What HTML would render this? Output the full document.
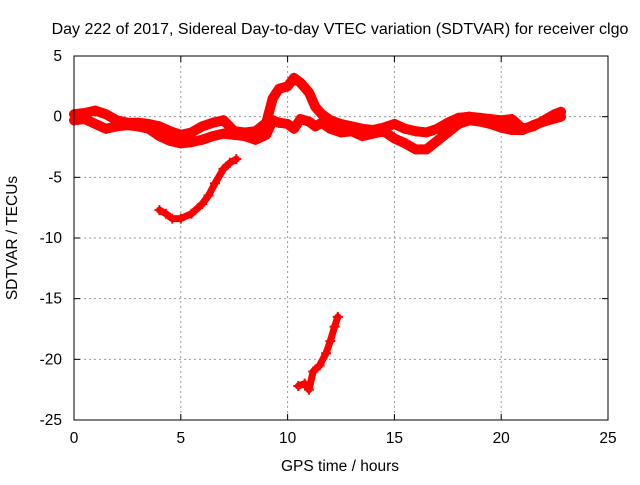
<!DOCTYPE html>
<html><head><meta charset="utf-8"><style>
body{margin:0;background:#fff}
svg{font-family:"Liberation Sans",sans-serif;font-size:15.5px}
</style></head><body>
<svg id="chart" width="640" height="480" viewBox="0 0 640 480" xmlns="http://www.w3.org/2000/svg">
<rect width="640" height="480" fill="#fff"/>
<text x="340" y="34" text-anchor="middle" style="font-size:16px">Day 222 of 2017, Sidereal Day-to-day VTEC variation (SDTVAR) for receiver clgo</text>
<text x="340" y="471" text-anchor="middle">GPS time / hours</text>
<text transform="translate(17,238) rotate(-90)" text-anchor="middle">SDTVAR / TECUs</text>
<g id="grid"></g><g id="ticks"></g><g id="marks"></g>
<rect x="74" y="56" width="534" height="364" fill="none" stroke="#000" stroke-width="1"/>
</svg>
<script>
const xTicks=[0,5,10,15,20,25];
const yTicks=[5,0,-5,-10,-15,-20,-25];
const upperH=[0,0.5,1,1.5,2,2.5,3,3.5,4,4.5,5,5.5,6,6.5,7,7.5,8,8.5,9,9.3,9.6,10,10.3,10.6,11,11.3,11.6,12,12.5,13,13.5,14,14.5,15,15.5,16,16.5,17,17.5,18,18.5,19,19.5,20,20.5,21,21.5,22,22.5,22.8];
const upperV=[0.2,0.3,0.5,0.2,-0.3,-0.5,-0.5,-0.6,-0.8,-1.2,-1.5,-1.3,-0.8,-0.5,-0.3,-1.2,-1.3,-1.2,-0.5,1.5,2.3,2.5,3.2,2.8,2.0,0.8,0.2,-0.3,-0.6,-0.8,-1.0,-1.1,-0.9,-0.6,-1.0,-1.2,-1.3,-1.0,-0.5,-0.1,0,-0.1,-0.2,-0.3,-0.2,-1.0,-0.8,-0.3,0.2,0.4];
const lowerH=[0,0.5,1,1.5,2,2.5,3,3.5,4,4.5,5,5.5,6,6.5,7,7.5,8,8.5,9,9.3,9.6,10,10.3,10.6,11,11.3,11.6,12,12.5,13,13.5,14,14.5,15,15.5,16,16.5,17,17.5,18,18.5,19,19.5,20,20.5,21,21.5,22,22.8];
const lowerV=[-0.3,-0.2,-0.6,-1.0,-0.8,-0.7,-0.8,-1.0,-1.6,-2.0,-2.2,-2.1,-1.9,-1.6,-1.4,-1.5,-1.6,-1.9,-1.5,-0.3,-0.5,-0.6,-1.0,-0.2,-0.4,-0.8,-0.5,-1.0,-1.3,-1.2,-1.6,-1.4,-1.2,-1.8,-2.2,-2.7,-2.7,-2.0,-1.3,-0.6,-0.3,-0.4,-0.6,-0.9,-1.1,-1.1,-0.7,-0.4,0.0];
const arcH=[4,4.3,4.6,5,5.5,6,6.3,6.6,7,7.3,7.6];
const arcV=[-7.7,-8.0,-8.4,-8.4,-8.0,-7.2,-6.5,-5.5,-4.3,-3.8,-3.5];
const lowArcH=[10.5,10.8,11,11.2,11.5,11.8,12,12.2,12.35];
const lowArcV=[-22.2,-22.0,-22.5,-21.0,-20.5,-19.5,-18.5,-17.3,-16.5];
const NS="http://www.w3.org/2000/svg";
const xs=h=>74+h*(534/25);
const ys=v=>56+(5-v)*(364/30);
function mk(t,a,p){const e=document.createElementNS(NS,t);for(const k in a)e.setAttribute(k,a[k]);p.appendChild(e);return e;}
const grid=document.getElementById('grid'),ticks=document.getElementById('ticks'),marks=document.getElementById('marks');
xTicks.forEach(t=>{const x=xs(t);
 if(t>0&&t<25){const g=mk('line',{x1:x,x2:x,y1:56,y2:420,stroke:'#999','stroke-dasharray':'2,3'},grid);
 
 }
 mk('line',{x1:x,x2:x,y1:420,y2:414,stroke:'#000'},ticks);mk('line',{x1:x,x2:x,y1:56,y2:62,stroke:'#000'},ticks);
 const l=mk('text',{x:x,y:443,'text-anchor':'middle'},ticks);l.textContent=t;
 
 });
yTicks.forEach(t=>{const y=ys(t);
 if(t<5&&t>-25){const g=mk('line',{x1:74,x2:608,y1:y,y2:y,stroke:'#999','stroke-dasharray':'2,3'},grid);
 
 }
 mk('line',{x1:74,x2:80,y1:y,y2:y,stroke:'#000'},ticks);mk('line',{x1:608,x2:602,y1:y,y2:y,stroke:'#000'},ticks);
 const l=mk('text',{x:62,y:y+5,'text-anchor':'end'},ticks);l.textContent=t;
 
 });
function series(H,V,name,w){
 const pts=H.map((h,i)=>xs(h)+','+ys(V[i])).join(' ');
 const p=mk('polyline',{points:pts,fill:'none',stroke:'#f00','stroke-width':w,'stroke-linejoin':'round','stroke-linecap':'round'},marks);
 
 
 H.forEach((h,i)=>{const x=xs(h),y=ys(V[i]);
  const m=mk('path',{d:`M${x-5},${y}H${x+5}M${x},${y-5}V${y+5}`,stroke:'#f00','stroke-width':2},marks);
  
  });
}
series(upperH,upperV,'upper-track',10);
series(lowerH,lowerV,'lower-track',10);
series(arcH,arcV,'arc-track',7);
series(lowArcH,lowArcV,'low-arc-track',7);
</script>
</body></html>
